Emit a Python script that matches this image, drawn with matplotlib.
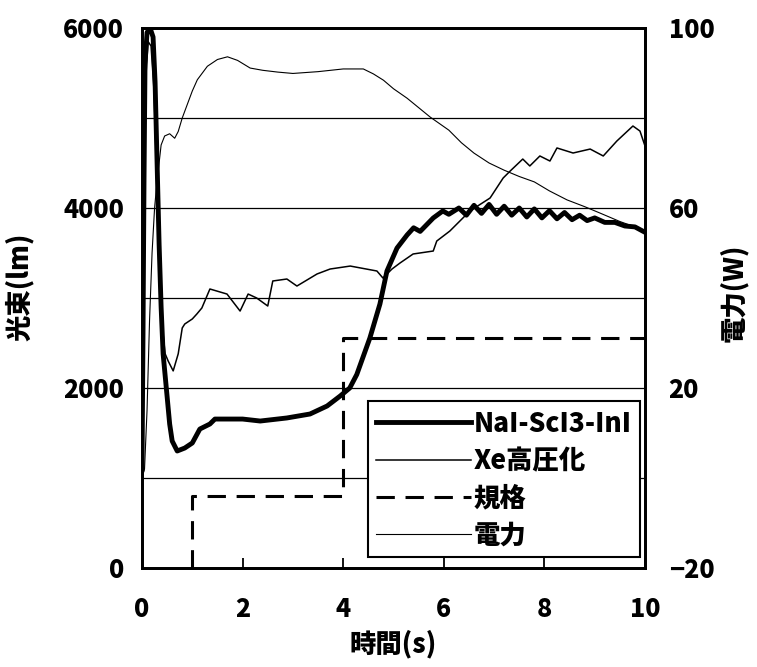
import matplotlib
matplotlib.use("Agg")
import matplotlib.pyplot as plt
from matplotlib.lines import Line2D

plt.rcParams['font.family'] = ['Noto Sans CJK JP', 'DejaVu Sans']
plt.rcParams['font.weight'] = 'heavy'
plt.rcParams['axes.unicode_minus'] = True

# ---- data ----
nai_t = [0.0, 0.02, 0.04, 0.06, 0.1, 0.16, 0.22, 0.26, 0.3, 0.34, 0.38, 0.42, 0.5, 0.55, 0.6, 0.7,
         0.85, 1.0, 1.15, 1.35, 1.45, 2.0, 2.35, 2.88, 3.34, 3.68, 3.94, 4.13, 4.27, 4.53,
         4.73, 4.87, 5.07, 5.27, 5.4, 5.53, 5.79, 5.98, 6.1, 6.3, 6.45, 6.6, 6.75, 6.9, 7.05,
         7.2, 7.35, 7.5, 7.65, 7.8, 7.95, 8.1, 8.25, 8.4, 8.55, 8.7, 8.85, 9.0, 9.2, 9.4, 9.6,
         9.8, 10.0]
nai_v = [1100, 2600, 4300, 5600, 5950, 6000, 5900, 5400, 4500, 3600, 2900, 2378, 1900, 1600, 1411, 1300,
         1333, 1389, 1544, 1600, 1655, 1655, 1633, 1667, 1711, 1800, 1911, 2000, 2150, 2555,
         2933, 3300, 3555, 3700, 3780, 3740, 3889, 3967, 3930, 4000, 3920, 4030, 3940, 4040, 3930,
         4020, 3920, 4000, 3900, 3990, 3890, 3970, 3880, 3950, 3870, 3920, 3860, 3890, 3840, 3840, 3800,
         3790, 3730]

xe_t = [0.0, 0.02, 0.04, 0.07, 0.12, 0.18, 0.24, 0.29, 0.34, 0.4, 0.46, 0.52, 0.62, 0.72, 0.8, 0.85,
        1.0, 1.09, 1.19, 1.35, 1.69, 1.95, 2.11, 2.28, 2.5, 2.6, 2.88, 3.08, 3.48, 3.74, 4.14,
        4.67, 4.79, 4.97, 5.13, 5.39, 5.79, 5.86, 6.12, 6.52, 6.92, 7.18, 7.32, 7.57, 7.71, 7.91,
        8.11, 8.25, 8.57, 8.91, 9.17, 9.44, 9.76, 9.9, 10.0]
xe_v = [1000, 2400, 4000, 5400, 5850, 5800, 5300, 4400, 3400, 2700, 2380, 2300, 2190, 2380, 2667, 2711,
        2767, 2822, 2889, 3100, 3044, 2855, 3044, 3000, 2911, 3189, 3211, 3133, 3267, 3322, 3355,
        3300, 3222, 3322, 3389, 3489, 3522, 3633, 3744, 3967, 4111, 4333, 4411, 4544, 4467, 4578,
        4522, 4667, 4611, 4655, 4578, 4744, 4911, 4855, 4689]

std_t = [1, 1, 4, 4, 10]
std_v = [0, 800, 800, 2560, 2560]

pw_t = [0.0, 0.05, 0.1, 0.15, 0.2, 0.25, 0.3, 0.38, 0.45, 0.55, 0.65, 0.72, 0.8, 0.9, 1.0, 1.1,
        1.3, 1.5, 1.7, 1.9, 2.15, 2.4, 2.7, 3.0, 3.5, 4.0, 4.4, 4.6, 4.8, 5.0, 5.27, 5.5, 5.73,
        6.1, 6.35, 6.6, 6.9, 7.2, 7.5, 7.8, 8.1, 8.45, 8.8, 9.1, 9.5, 10.0]
pw_v = [0, 2, 15, 35, 50, 60, 66, 74, 76, 76.5, 75.5, 77, 80, 83, 86, 88.5,
        91.5, 93, 93.6, 92.8, 91.1, 90.6, 90.2, 89.9, 90.3, 90.9, 90.9, 89.8, 88.4, 86.5, 84.4, 82.3, 80.2,
        77.3, 74.5, 72.2, 70, 68.4, 67, 65.8, 63.8, 61.8, 60.3, 58.9, 57, 55]

x_ticks = [0, 2, 4, 6, 8, 10]
y1_ticks = [0, 2000, 4000, 6000]
y1_grid = [1000, 2000, 3000, 4000, 5000]
y2_ticks = [-20, 20, 60, 100]

labels = ['NaI-ScI3-InI', 'Xe高圧化', '規格', '電力']

# ---- figure ----
fig = plt.figure(figsize=(7.57, 6.67), dpi=100)
ax1 = fig.add_axes([142/757, 1-568/667, (645-142)/757, (568-28)/667])
ax2 = ax1.twinx()

ax1.plot(nai_t, nai_v, color='black', lw=3.5, solid_joinstyle='round', zorder=3)
ax1.plot(xe_t, xe_v, color='black', lw=1.1, zorder=3)
ax1.plot(std_t, std_v, color='black', lw=2.2, dashes=(6, 3.5), zorder=3)
ax2.plot(pw_t, pw_v, color='black', lw=0.8)

ax1.set_xlim(0, 10)
ax1.set_ylim(0, 6000)
ax2.set_ylim(-20, 100)

ax1.set_xticks(x_ticks)
ax1.set_yticks(y1_ticks)
ax1.set_yticks(y1_grid, minor=True)
ax2.set_yticks(y2_ticks)
ax1.yaxis.grid(True, which='both', color='black', lw=0.9)
ax1.set_axisbelow(True)

fs = 18
lfs = 19
ax1.tick_params(axis='x', direction='in', length=7, width=1.3, pad=20, labelsize=fs)
ax1.tick_params(axis='y', which='both', length=0, pad=13, labelsize=fs)
ax2.tick_params(axis='y', length=0, pad=17, labelsize=fs)
for lab in ax1.get_xticklabels() + ax1.get_yticklabels() + ax2.get_yticklabels():
    lab.set_fontweight('heavy')

for ax in (ax1, ax2):
    for s in ax.spines.values():
        s.set_linewidth(2)

ax1.set_xlabel('時間(s)', fontsize=lfs, fontweight='heavy', labelpad=6)
ax1.set_ylabel('光束(lm)', fontsize=lfs, fontweight='heavy')
ax2.set_ylabel('電力(W)', fontsize=lfs, fontweight='heavy')
ax1.yaxis.set_label_coords(-0.215, 0.52)
ax2.yaxis.set_label_coords(1.147, 0.51)

handles = [Line2D([], [], color='black', lw=3.5),
           Line2D([], [], color='black', lw=1.1),
           Line2D([], [], color='black', lw=2.2, dashes=(6, 3.5)),
           Line2D([], [], color='black', lw=0.8)]
leg = ax2.legend(handles, labels, loc='lower right', bbox_to_anchor=(0.99, 0.02),
                 borderaxespad=0, fancybox=False, framealpha=1, edgecolor='black',
                 prop={'size': 19, 'weight': 'heavy'}, handlelength=3.6, handletextpad=0.1,
                 labelspacing=0.33, borderpad=0.3)
leg.get_frame().set_linewidth(1.5)

fig.savefig('out.png', dpi=100)
